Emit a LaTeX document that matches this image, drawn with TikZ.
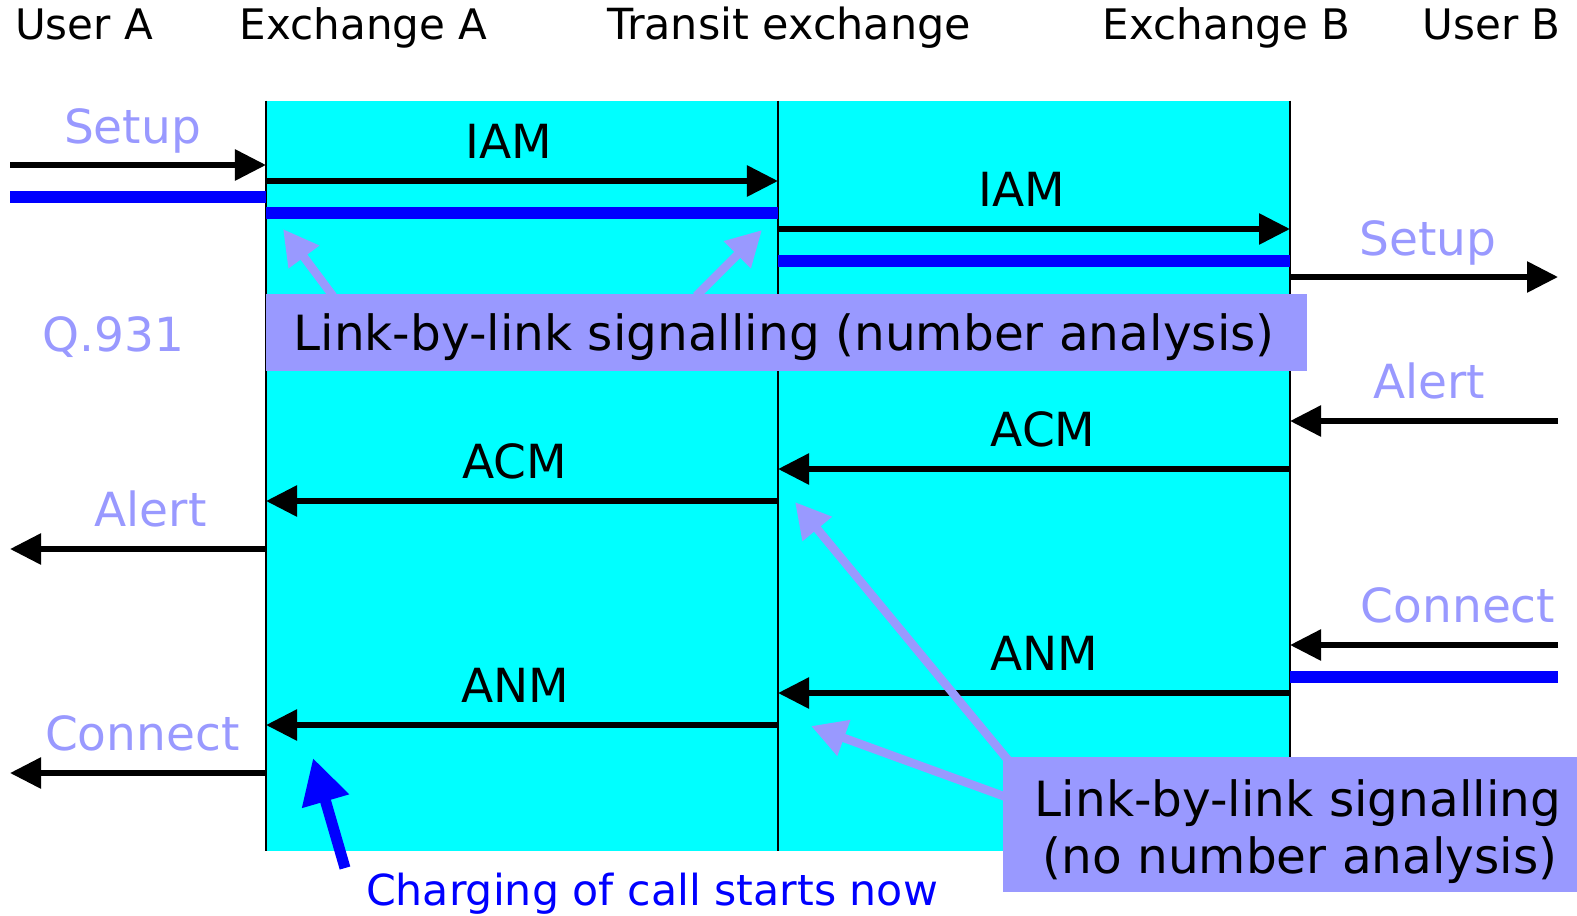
\documentclass[tikz,border=0pt]{standalone}
\usepackage{fontspec}
\setmainfont{DejaVu Sans}
\usetikzlibrary{arrows.meta}
\definecolor{sigcyan}{RGB}{0,255,255}
\definecolor{lav}{RGB}{153,153,255}
\definecolor{bearer}{RGB}{0,0,255}

\begin{document}
\begin{tikzpicture}[x=0.01cm,y=-0.01cm,
  msg/.style={line width=0.058cm, -{Triangle[length=0.31cm,width=0.30cm]}},
  bearerline/.style={line width=0.115cm, draw=bearer},
  lifeline/.style={line width=0.02cm},
  pointer/.style={line width=0.085cm, draw=lav, -{Triangle[length=0.35cm,width=0.36cm]}},
  chargearrow/.style={line width=0.11cm, draw=bearer, -{Triangle[length=0.45cm,width=0.46cm]}},
  head/.style={anchor=base, font=\fontsize{11.95}{14}\selectfont},
  lbl/.style={anchor=base, font=\fontsize{13.37}{16}\selectfont},
  q931/.style={lbl, text=lav},
  isup/.style={lbl, text=black},
  note/.style={anchor=base, font=\fontsize{13.8}{16}\selectfont},
  noteback/.style={fill=lav, draw=none, inner sep=0pt, anchor=north west},
  chargenote/.style={anchor=base, text=bearer, font=\fontsize{12.15}{15}\selectfont}
]
\useasboundingbox (0,0) rectangle (1577,915);

% exchange area
\fill[sigcyan] (266,100.5) rectangle (1290,851);

% x positions of the parties
\coordinate (uA)  at (10,0);
\coordinate (exA) at (266,0);
\coordinate (trX) at (778,0);
\coordinate (exB) at (1290,0);
\coordinate (uB)  at (1558,0);

% exchange lifelines
\draw[lifeline] (exA |- 0,100.5) -- (exA |- 0,851);
\draw[lifeline] (trX |- 0,100.5) -- (trX |- 0,851);
\draw[lifeline] (exB |- 0,100.5) -- (exB |- 0,851);

% headers
\node[head] (hUA) at (84,39.5)   {User A};
\node[head] (hXA) at (363.5,39.5) {Exchange A};
\node[head, font=\fontsize{12.2}{14}\selectfont] (hTX) at (789,39.5)  {Transit exchange};
\node[head] (hXB) at (1226.5,39.5) {Exchange B};
\node[head] (hUB) at (1491.5,39.5) {User B};

% call set-up, forward direction
\draw[msg] (uA |- 0,165) -- (exA |- 0,165);
\draw[bearerline] (uA |- 0,197) -- (exA |- 0,197);
\draw[msg] (exA |- 0,181) -- (trX |- 0,181);
\draw[bearerline] (exA |- 0,213) -- (trX |- 0,213);
\draw[msg] (trX |- 0,229) -- (exB |- 0,229);
\draw[bearerline] (trX |- 0,261) -- (exB |- 0,261);
\draw[msg] (exB |- 0,277) -- (uB |- 0,277);

% alerting, backward direction
\draw[msg] (uB |- 0,421) -- (exB |- 0,421);
\draw[msg] (exB |- 0,469) -- (trX |- 0,469);
\draw[msg] (trX |- 0,501) -- (exA |- 0,501);
\draw[msg] (exA |- 0,549) -- (uA |- 0,549);

% answer, backward direction
\draw[msg] (uB |- 0,645) -- (exB |- 0,645);
\draw[bearerline] (exB |- 0,677) -- (uB |- 0,677);
\draw[msg] (exB |- 0,693) -- (trX |- 0,693);
\draw[msg] (trX |- 0,725) -- (exA |- 0,725);
\draw[msg] (exA |- 0,773) -- (uA |- 0,773);

% message names
\node[q931] (sL) at (132.5,143.3) {Setup};
\node[isup] (iam1) at (509,158.5) {IAM};
\node[isup] (iam2) at (1022,206.5) {IAM};
\node[q931] (sR) at (1428,255) {Setup};
\node[q931] (q) at (113.5,351.7) {Q.931};
\node[q931] (aR) at (1429,398.5) {Alert};
\node[isup] (acm2) at (1043,446.5) {ACM};
\node[isup] (acm1) at (514.5,478.5) {ACM};
\node[q931] (aL) at (150.5,526.5) {Alert};
\node[q931] (cR) at (1458,622.5) {Connect};
\node[isup] (anm2) at (1044,670.5) {ANM};
\node[isup] (anm1) at (515.5,702.5) {ANM};
\node[q931] (cL) at (142.3,750.5) {Connect};

% pointers from the explanatory notes
\coordinate (p1tail) at (333,296);
\coordinate (p1tip)  at (283,229);
\coordinate (p2tail) at (696,296);
\coordinate (p2tip)  at (762,230);
\coordinate (p3tail) at (1008,760);
\coordinate (p3tip)  at (795,502);
\coordinate (p4tail) at (1006,797);
\coordinate (p4tip)  at (811,726);
\draw[pointer] (p1tail) -- (p1tip);
\draw[pointer] (p2tail) -- (p2tip);
\draw[pointer] (p3tail) -- (p3tip);
\draw[pointer] (p4tail) -- (p4tip);

% explanatory notes
\node[noteback, minimum width=10.405cm, minimum height=0.765cm] (box1) at (265.5,293.5) {};
\node[note] (box1txt) at (784,350) {Link-by-link signalling (number analysis)};
\node[noteback, minimum width=5.75cm, minimum height=1.35cm] (box2) at (1002,756) {};
\node[note] (box2a) at (1298,816.5) {Link-by-link signalling};
\node[note] (box2b) at (1300,873) {(no number analysis)};

% start of charging
\node[chargenote] (charge) at (652,905) {Charging of call starts now};
\coordinate (ctail) at (345,868);
\coordinate (ctip)  at (313,758);
\draw[chargearrow] (ctail) -- (ctip);
\end{tikzpicture}
\end{document}
